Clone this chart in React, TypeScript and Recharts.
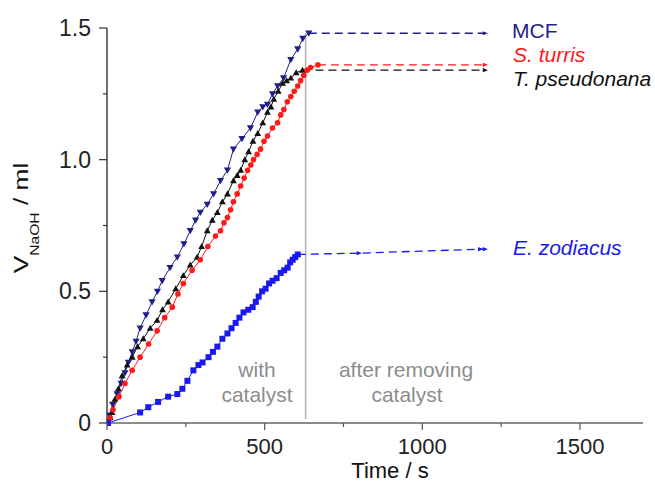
import React from 'react'
import { LineChart, Line, XAxis, YAxis, ReferenceLine } from 'recharts'

if (typeof document !== 'undefined') document.body.style.margin = '0'

const FONT = '"Liberation Sans", Arial, sans-serif'

// MCF
const mcfTime = [0, 8, 18, 32, 45, 57, 68, 80, 92, 105, 124, 143, 160, 175, 200, 223, 244, 264, 281, 296, 318, 338, 360, 382, 401, 428, 455, 478, 494, 509, 525, 541, 560, 583, 605, 621, 640]
const mcfVol = [0, 0.03, 0.07, 0.11, 0.15, 0.19, 0.23, 0.27, 0.31, 0.36, 0.41, 0.46, 0.5, 0.54, 0.59, 0.63, 0.68, 0.73, 0.77, 0.8, 0.83, 0.87, 0.92, 0.96, 1.04, 1.08, 1.12, 1.18, 1.2, 1.21, 1.25, 1.28, 1.31, 1.38, 1.42, 1.46, 1.48]
const mcfTailTime = [640, 1200]
const mcfTailVol = [1.48, 1.48]

// S. turris
const turrisTime = [0, 10, 19, 38, 57, 80, 105, 132, 159, 183, 207, 225, 242, 270, 296, 320, 344, 360, 371, 382, 392, 401, 413, 424, 435, 446, 456, 465, 476, 487, 498, 509, 525, 541, 551, 561, 572, 583, 594, 605, 614, 624, 635, 646, 669]
const turrisVol = [0, 0.02, 0.05, 0.1, 0.15, 0.2, 0.25, 0.3, 0.35, 0.4, 0.44, 0.49, 0.53, 0.58, 0.62, 0.67, 0.71, 0.73, 0.76, 0.78, 0.81, 0.84, 0.87, 0.9, 0.93, 0.96, 0.98, 1.0, 1.02, 1.04, 1.07, 1.09, 1.12, 1.14, 1.17, 1.19, 1.22, 1.24, 1.26, 1.28, 1.3, 1.32, 1.34, 1.35, 1.36]
const turrisTailTime = [669, 1200]
const turrisTailVol = [1.36, 1.36]

// T. pseudonana
const pseudoTime = [0, 10, 16, 25, 36, 48, 64, 80, 97, 115, 137, 159, 176, 194, 218, 242, 264, 286, 300, 318, 334, 350, 366, 382, 401, 413, 424, 437, 449, 463, 478, 494, 509, 520, 529, 543, 557, 570, 583, 600, 620]
const pseudoVol = [0, 0.02, 0.04, 0.09, 0.13, 0.18, 0.22, 0.25, 0.29, 0.32, 0.36, 0.39, 0.43, 0.46, 0.51, 0.56, 0.6, 0.63, 0.67, 0.73, 0.77, 0.8, 0.84, 0.87, 0.92, 0.94, 0.96, 1.0, 1.03, 1.07, 1.1, 1.14, 1.18, 1.2, 1.23, 1.26, 1.29, 1.3, 1.31, 1.33, 1.34]
const pseudoTailTime = [620, 1200]
const pseudoTailVol = [1.34, 1.34]

// E. zodiacus
const zodiacusTime = [0, 3, 105, 131, 162, 194, 223, 239, 255, 274, 290, 303, 322, 336, 350, 366, 382, 395, 408, 420, 433, 448, 462, 472, 481, 492, 503, 514, 525, 538, 551, 562, 573, 581, 589, 597, 605]
const zodiacusVol = [0, 0, 0.04, 0.06, 0.08, 0.1, 0.11, 0.13, 0.16, 0.2, 0.22, 0.23, 0.25, 0.27, 0.29, 0.32, 0.34, 0.36, 0.38, 0.4, 0.42, 0.43, 0.44, 0.46, 0.48, 0.5, 0.51, 0.53, 0.54, 0.55, 0.57, 0.58, 0.59, 0.61, 0.62, 0.63, 0.64]
const zodiacusTailTime = [605, 800, 1185, 1200]
const zodiacusTailVol = [0.64, 0.645, 0.66, 0.66]

const catalystRemoved = 630
const xMajor = [0, 500, 1000, 1500]
const xTicks = [0, 250, 500, 750, 1000, 1250, 1500]
const yMajor = [0, 0.5, 1, 1.5]
const yTicks = [0, 0.25, 0.5, 0.75, 1, 1.25, 1.5]

const rows = (t: number[], v: number[]) => t.map((x, i) => ({ t: x, v: v[i] }))

function Marker({ cx, cy, shape, color, s }: any) {
  if (cx == null || cy == null) return null
  if (shape === 'down')
    return <path d={`M${cx - s},${cy - s * 0.75}L${cx + s},${cy - s * 0.75}L${cx},${cy + s}Z`} fill={color} />
  if (shape === 'up')
    return <path d={`M${cx - s},${cy + s * 0.75}L${cx + s},${cy + s * 0.75}L${cx},${cy - s}Z`} fill={color} />
  if (shape === 'square') return <rect x={cx - s} y={cy - s} width={s * 2} height={s * 2} fill={color} />
  if (shape === 'arrow')
    return <path d={`M${cx - s},${cy - s * 0.8}L${cx + s},${cy}L${cx - s},${cy + s * 0.8}Z`} fill={color} />
  return <circle cx={cx} cy={cy} r={s} fill={color} />
}

const series = [
  { name: 'MCF', time: mcfTime, vol: mcfVol, tailT: mcfTailTime, tailV: mcfTailVol, color: '#1f1f8c', shape: 'down', s: 3.6 },
  { name: 'pseudo', time: pseudoTime, vol: pseudoVol, tailT: pseudoTailTime, tailV: pseudoTailVol, color: '#111111', shape: 'up', s: 3.4 },
  { name: 'turris', time: turrisTime, vol: turrisVol, tailT: turrisTailTime, tailV: turrisTailVol, color: '#ff1a1a', shape: 'circle', s: 2.8 },
  { name: 'zodiacus', time: zodiacusTime, vol: zodiacusVol, tailT: zodiacusTailTime, tailV: zodiacusTailVol, color: '#1a1aee', shape: 'square', s: 3 },
]

const XTick = (p: any) => {
  const v = p.payload.value
  const major = xMajor.includes(v)
  return (
    <g>
      <line x1={p.x} x2={p.x} y1={p.y} y2={p.y + (major ? 7 : 4)} stroke="#555" strokeWidth={1.2} />
      {major && (
        <text x={p.x} y={p.y + 31} textAnchor="middle" fontSize={22} fill="#222" fontFamily={FONT}>
          {v}
        </text>
      )}
    </g>
  )
}

const YTick = (p: any) => {
  const v = p.payload.value
  const major = yMajor.includes(v)
  return (
    <g>
      <line x1={p.x} x2={p.x - (major ? 8 : 4)} y1={p.y} y2={p.y} stroke="#333" strokeWidth={1.2} />
      {major && (
        <text x={p.x - 16} y={p.y + 8} textAnchor="end" fontSize={23} fill="#222" fontFamily={FONT}>
          {v === 0 ? '0' : v.toFixed(1)}
        </text>
      )}
    </g>
  )
}

export default function App() {
  return (
    <LineChart width={655} height={484} margin={{ top: 28, right: 12, left: 0, bottom: 0 }}>
      <XAxis
        type="number"
        dataKey="t"
        domain={[0, 1700]}
        ticks={xTicks}
        interval={0}
        tick={XTick}
        tickLine={false}
        tickSize={0}
        tickMargin={0}
        axisLine={{ stroke: '#666', strokeWidth: 1.5 }}
        height={61}
        allowDataOverflow
      />
      <YAxis
        type="number"
        dataKey="v"
        domain={[0, 1.5]}
        ticks={yTicks}
        interval={0}
        tick={YTick}
        tickLine={false}
        tickSize={0}
        tickMargin={0}
        axisLine={{ stroke: '#222', strokeWidth: 1.3 }}
        width={107}
      />
      <ReferenceLine
        segment={[{ x: catalystRemoved, y: 0.015 }, { x: catalystRemoved, y: 1.48 }]}
        stroke="#b0b0b0"
        strokeWidth={1.5}
      />
      {series.map(s => (
        <Line
          key={s.name + '-tail'}
          data={rows(s.tailT, s.tailV)}
          dataKey="v"
          stroke={s.color}
          strokeWidth={1.3}
          strokeDasharray="8 5"
          isAnimationActive={false}
          dot={(p: any) =>
            p.index === 0 ? <g key={`${s.name}-t${p.index}`} /> : (
              <Marker key={`${s.name}-t${p.index}`} cx={p.cx} cy={p.cy} shape="arrow" color={s.color} s={2.6} />
            )
          }
        />
      ))}
      {series.map(s => (
        <Line
          key={s.name}
          data={rows(s.time, s.vol)}
          dataKey="v"
          stroke={s.color}
          strokeWidth={1}
          isAnimationActive={false}
          dot={(p: any) => <Marker key={`${s.name}-${p.index}`} cx={p.cx} cy={p.cy} shape={s.shape} color={s.color} s={s.s} />}
        />
      ))}
      <text x={512} y={38} fontSize={21} fill="#1f1f8c" fontFamily={FONT}>MCF</text>
      <text x={513} y={62} fontSize={21} fill="#ff1a1a" fontStyle="italic" fontFamily={FONT}>S. turris</text>
      <text x={513} y={86} fontSize={21} fill="#111" fontStyle="italic" fontFamily={FONT}>T. pseudonana</text>
      <text x={513} y={255} fontSize={21} fill="#1a1aee" fontStyle="italic" fontFamily={FONT}>E. zodiacus</text>
      <g fontSize={21} fill="#8c8c8c" fontFamily={FONT} textAnchor="middle">
        <text x={257} y={377}>with</text>
        <text x={257} y={402}>catalyst</text>
        <text x={406} y={377}>after removing</text>
        <text x={407} y={402}>catalyst</text>
      </g>
      <text x={390} y={478} fontSize={22} fill="#111" textAnchor="middle" fontFamily={FONT}>Time / s</text>
      <text
        transform="translate(28,218) rotate(-90) scale(1.25,1)"
        fontSize={21}
        fill="#111"
        textAnchor="middle"
        fontFamily={FONT}
      >
        V<tspan fontSize={12.5} dy={11}>NaOH</tspan>
        <tspan dy={-11}> / ml</tspan>
      </text>
    </LineChart>
  )
}
